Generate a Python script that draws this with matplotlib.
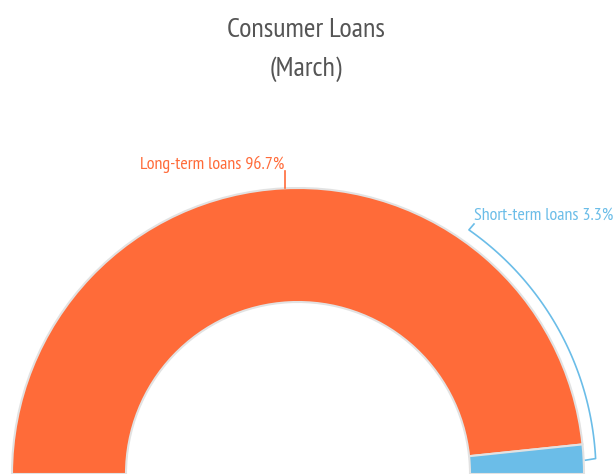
import numpy as np
import matplotlib.pyplot as plt

# Data
labels = ['Long-term loans', 'Short-term loans']
shares = [96.7, 3.3]
colors = ['#FF6B39', '#6BBDE8']
title = 'Consumer Loans\n(March)'

plt.rcParams['font.family'] = ['PT Sans Narrow', 'DejaVu Sans']

W, H = 613, 474
fig = plt.figure(figsize=(W / 100, H / 100), dpi=100)
ax = fig.add_axes([0, 0, 1, 1])

cx, cy = 298, 0
r_out, r_in = 286, 172

# semicircle donut: hidden wedge fills the lower half
vals = shares + [sum(shares)]
wedges, _ = ax.pie(vals, colors=colors + ['none'], startangle=180, counterclock=False,
                   center=(cx, cy), radius=r_out, frame=True,
                   wedgeprops=dict(width=r_out - r_in, edgecolor='#E2E2E2', linewidth=1.5))
wedges[-1].set_edgecolor('none')
ax.set_xlim(0, W)
ax.set_ylim(0, H)
ax.set_aspect('equal')
ax.axis('off')

# mid angle of each slice
angles = []
start = 180.0
for s in shares:
    span = 180.0 * s / sum(shares)
    angles.append(np.radians(start - span / 2))
    start -= span

# long-term: straight connector
a = angles[0]
x0, y0 = cx + r_out * np.cos(a), cy + r_out * np.sin(a)
ax.plot([x0 + 2, x0 + 2], [y0, y0 + 17], color=colors[0], lw=1.2)
ax.text(x0 + 1, y0 + 15, f'{labels[0]} {shares[0]}%', color=colors[0],
        fontsize=13, ha='right', va='bottom')

# short-term: arc-following connector
a = angles[1]
r_c = 298
xs, ys = cx + r_out * np.cos(a), cy + r_out * np.sin(a)
t = np.linspace(a, np.radians(55), 60)
px = np.concatenate([[xs + 2], cx + r_c * np.cos(t), [474]])
py = np.concatenate([[ys - 1], cy + r_c * np.sin(t), [H - 224]])
ax.plot(px, py, color=colors[1], lw=1.2)
ax.text(474, H - 216, f'{labels[1]} {shares[1]}%', color=colors[1],
        fontsize=13, ha='left', va='center')

fig.text(306 / W, 1 - 50 / H, title, ha='center', va='center', color='#555555',
         fontsize=20.3, linespacing=1.75)

fig.savefig('out.png', dpi=100)
